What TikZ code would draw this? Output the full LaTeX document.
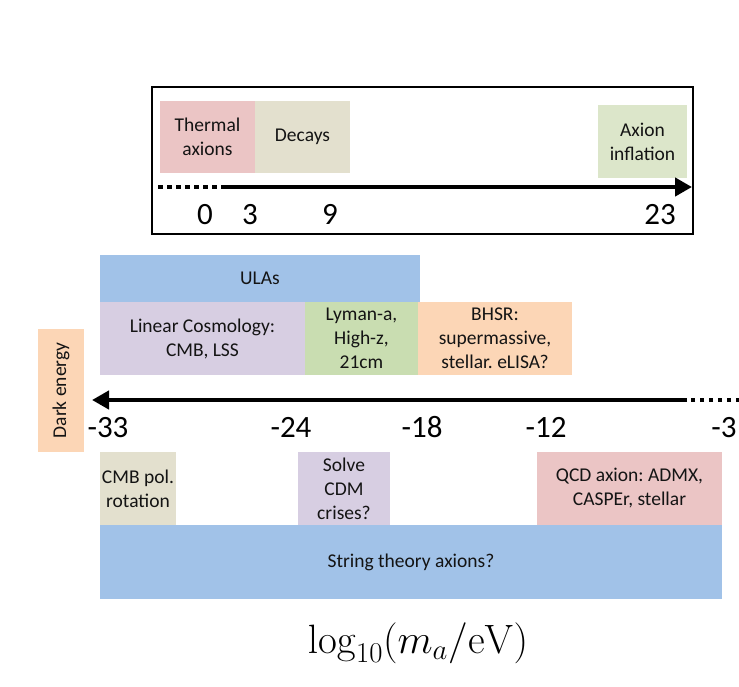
\RequirePackage{fix-cm}
\documentclass[tikz,border=0pt]{standalone}
\usepackage[no-math]{fontspec}
\setmainfont{Carlito}
\usepackage{tikz}
\usetikzlibrary{arrows.meta,positioning}
\definecolor{PinkBand}{HTML}{EBC5C5}
\definecolor{BeigeBand}{HTML}{E3E0CE}
\definecolor{SageBand}{HTML}{DCE6CA}
\definecolor{BlueBand}{HTML}{A1C2E8}
\definecolor{LilacBand}{HTML}{D7CEE2}
\definecolor{GreenBand}{HTML}{C9DDB1}
\definecolor{PeachBand}{HTML}{FCD6B6}
\definecolor{InkText}{HTML}{141414}
\frenchspacing

\begin{document}
\begin{tikzpicture}[
        x=1pt, y=-1pt,
        band/.style={
            inner sep=0pt,
            align=center,
            text=InkText,
            font=\fontsize{19.5}{24}\selectfont
        },
        tick/.style={inner sep=0pt, anchor=base, font=\fontsize{31}{36}\selectfont},
        axarr/.style={-{Triangle[length=17pt, width=18pt]}, line width=4.5pt},
        axdots/.style={line width=4.5pt, dash pattern=on 4.5pt off 4.5pt}
    ]
        \useasboundingbox (0,0) rectangle (739,686);

        % heavy-axion window
        \draw[line width=1.6pt] (152,87) rectangle (693,234);
        \node[band, fill=PinkBand, minimum width=95pt, minimum height=72pt] (therm) at (207.5,137) {Thermal\\axions};
        \node[band, fill=BeigeBand, minimum width=95pt, minimum height=72pt] (decays) at (302.5,137) {Decays};
        \node[band, fill=SageBand, minimum width=89pt, minimum height=73pt] (infl) at (642.5,141.5) {Axion\\inflation};

        \coordinate (hiL) at (158,187);
        \coordinate (hiM) at (222,187);
        \coordinate (hiR) at (692,187);
        \draw[axdots] (hiL) -- (hiM);
        \draw[axarr] (hiM) -- (hiR);

        \node[tick] (t0) at (205,224) {0};
        \node[tick] (t3) at (250,224) {3};
        \node[tick] (t9) at (330,224) {9};
        \node[tick] (t23) at (660,224) {23};

        % light-axion bands
        \node[band, fill=BlueBand, minimum width=320pt, minimum height=47pt] (ulas) at (260,278.5) {ULAs};
        \node[band, fill=LilacBand, minimum width=205pt, minimum height=73pt] (lincos) at (202.5,338.5) {Linear Cosmology:\\CMB, LSS};
        \node[band, fill=GreenBand, minimum width=113pt, minimum height=73pt] (lyman) at (361.5,338.5) {Lyman-a,\\High-z,\\21cm};
        \node[band, fill=PeachBand, minimum width=154pt, minimum height=73pt] (bhsr) at (495,338.5) {BHSR:\\supermassive,\\stellar. eLISA?};
        \node[band, fill=PeachBand, minimum width=123pt, minimum height=46pt, rotate=90] (dark) at (61,390.5) {Dark energy};

        \coordinate (loR) at (740,400);
        \coordinate (loM) at (687,400);
        \coordinate (loL) at (92,400);
        \draw[axdots] (loR) -- (loM);
        \draw[axarr] (loM) -- (loL);

        \node[tick] (m33) at (108,437) {-33};
        \node[tick] (m24) at (291,437) {-24};
        \node[tick] (m18) at (422,437) {-18};
        \node[tick] (m12) at (546,437) {-12};
        \node[tick] (m3) at (724,437) {-3};

        \node[band, fill=BeigeBand, minimum width=76pt, minimum height=73pt] (cmbpol) at (138,488.5) {CMB pol.\\rotation};
        \node[band, fill=LilacBand, minimum width=92pt, minimum height=73pt] (cdm) at (344,488.5) {Solve\\CDM\\crises?};
        \node[band, fill=PinkBand, minimum width=185pt, minimum height=73pt] (qcd) at (629.5,488.5) {QCD axion: ADMX,\\CASPEr, stellar};
        \node[band, fill=BlueBand, minimum width=622pt, minimum height=74pt] (string) at (411,562) {String theory axions?};

        \node[inner sep=0pt, anchor=base, font=\fontsize{41}{48}\selectfont] (logma) at (418,653) {$\log_{10}(m_a/\mathrm{eV})$};
    \end{tikzpicture}
\end{document}
